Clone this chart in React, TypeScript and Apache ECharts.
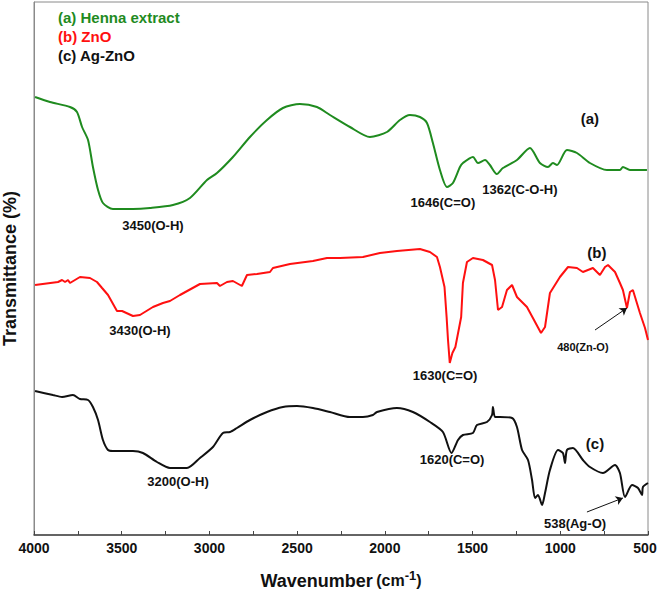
import React, { useEffect, useRef } from "react";
import * as echarts from "echarts";

// Wavenumber (cm^-1) and relative transmittance (arbitrary units)
const waveA = [3994, 3909, 3795, 3755, 3726, 3692, 3664, 3635, 3607, 3550, 3436, 3339, 3208, 3111, 3014, 2957, 2866, 2769, 2672, 2581, 2484, 2387, 2313, 2199, 2085, 1988, 1914, 1857, 1800, 1760, 1726, 1686, 1646, 1612, 1572, 1555, 1498, 1469, 1429, 1401, 1362, 1327, 1247, 1173, 1116, 1070, 1042, 1019, 962, 905, 831, 734, 660, 643, 603, 506];
const transA = [438, 433, 428, 423, 408, 395, 368, 345, 332, 326, 326, 327, 330, 337, 355, 362, 378, 398, 415, 427, 431, 428, 420, 408, 398, 403, 415, 420, 418, 412, 392, 365, 348, 352, 368, 372, 378, 372, 375, 370, 361, 367, 375, 387, 372, 368, 372, 370, 385, 382, 372, 365, 365, 368, 365, 365];

const waveB = [3994, 3863, 3840, 3823, 3806, 3795, 3738, 3681, 3641, 3612, 3578, 3527, 3498, 3436, 3396, 3322, 3265, 3225, 3168, 3054, 2957, 2940, 2900, 2866, 2815, 2786, 2729, 2655, 2638, 2541, 2410, 2330, 2256, 2125, 2028, 1931, 1800, 1743, 1703, 1686, 1660, 1648, 1640, 1630, 1615, 1598, 1565, 1555, 1532, 1498, 1441, 1389, 1372, 1355, 1332, 1304, 1275, 1247, 1190, 1156, 1110, 1087, 1059, 1002, 956, 905, 871, 814, 774, 745, 728, 688, 660, 643, 620, 603, 586, 546, 517, 500];
const transB = [250, 253, 255, 253, 255, 252, 258, 257, 253, 247, 240, 224, 224, 219, 220, 228, 232, 234, 240, 251, 252, 249, 253, 254, 249, 260, 261, 263, 267, 271, 274, 277, 277, 278, 282, 284, 286, 283, 278, 268, 248, 218, 195, 172, 182, 188, 218, 252, 273, 277, 275, 270, 255, 225, 228, 245, 250, 238, 228, 217, 202, 208, 242, 258, 268, 267, 263, 267, 260, 268, 270, 263, 252, 245, 227, 243, 245, 222, 207, 195];

const waveC = [3994, 3892, 3840, 3778, 3738, 3692, 3664, 3635, 3607, 3578, 3550, 3436, 3379, 3299, 3225, 3128, 3054, 2980, 2923, 2883, 2843, 2769, 2672, 2581, 2501, 2410, 2313, 2199, 2125, 2068, 2045, 1931, 1840, 1743, 1669, 1620, 1583, 1555, 1498, 1475, 1418, 1389, 1384, 1372, 1344, 1275, 1247, 1218, 1184, 1161, 1144, 1127, 1104, 1087, 1059, 1013, 985, 973, 962, 928, 871, 831, 757, 688, 660, 631, 591, 557, 534, 529, 500];
const transC = [144, 140, 138, 140, 136, 135, 128, 115, 95, 85, 84, 84, 82, 73, 67, 67, 77, 88, 102, 103, 107, 115, 123, 128, 129, 127, 123, 118, 118, 120, 123, 127, 123, 113, 103, 82, 95, 100, 102, 110, 113, 120, 128, 118, 118, 117, 108, 85, 75, 55, 37, 40, 30, 42, 65, 85, 82, 72, 85, 87, 75, 68, 62, 70, 62, 38, 50, 47, 40, 48, 52];

const seriesNames = ["(a) Henna extract", "(b) ZnO", "(c) Ag-ZnO"];
const seriesColors = ["#1f8b1f", "#ff1010", "#111111"];

const annotationTexts = ["3450(O-H)", "1646(C=O)", "1362(C-O-H)", "(a)", "3430(O-H)", "1630(C=O)", "(b)", "480(Zn-O)", "3200(O-H)", "1620(C=O)", "(c)", "538(Ag-O)"];
const annotationWave = [3322, 1669, 1230, 831, 3396, 1657, 791, 871, 3179, 1617, 802, 916];
const annotationTrans = [310, 333, 346, 417, 205, 160, 283, 188, 54, 76, 92, 12];

const arrowFrom = [[802, 205], [848, 23]];
const arrowTo = [[620, 227], [643, 37]];

const xTicks = { min: 500, max: 4000, step: 500 };

const FONT = "'Liberation Sans', Arial, Helvetica, sans-serif";

function zip(xs: number[], ys: number[]) {
  return xs.map((x, i) => [x, ys[i]]);
}

export default function App() {
  const ref = useRef<HTMLDivElement>(null);
  useEffect(() => {
    document.body.style.margin = "0";
    if (!ref.current) return;
    const chart = echarts.init(ref.current, undefined, { renderer: "svg" });
    const lineSeries = [
      [waveA, transA],
      [waveB, transB],
      [waveC, transC],
    ].map(([xs, ys], i) => ({
      type: "line",
      name: seriesNames[i],
      data: zip(xs, ys),
      showSymbol: false,
      symbol: "none",
      smooth: i === 1 ? false : 0.25,
      lineStyle: { color: seriesColors[i], width: 2 },
      z: 3,
    }));
    const annotationSeries = {
      type: "scatter",
      name: "annotations",
      symbolSize: 0,
      silent: true,
      itemStyle: { opacity: 1 },
      data: annotationTexts.map((t, i) => {
        const small = t.startsWith("480");
        const tag = t.length === 3;
        return {
          name: t,
          value: [annotationWave[i], annotationTrans[i]],
          label: {
            show: true,
            position: "inside",
            formatter: t,
            color: "#111111",
            opacity: 1,
            textBorderWidth: 0,
            fontFamily: FONT,
            fontWeight: "bold",
            fontSize: tag ? 15 : small ? 11 : 13,
          },
        };
      }),
      z: 5,
    };
    const arrowSeries = {
      type: "lines",
      coordinateSystem: "cartesian2d",
      symbol: ["none", "arrow"],
      symbolSize: 7,
      silent: true,
      lineStyle: { color: "#111", width: 1, opacity: 1 },
      data: arrowFrom.map((f, i) => ({ coords: [f, arrowTo[i]] })),
      z: 6,
    };
    const labelStyle = { color: "#111", fontFamily: FONT, fontWeight: "bold", fontSize: 14 };
    chart.setOption({
      animation: false,
      backgroundColor: "#ffffff",
      grid: {
        left: 34,
        right: 10,
        top: 2,
        bottom: 56,
        show: true,
        borderColor: "#8a8a8a",
        borderWidth: 1,
        containLabel: false,
        outerBoundsMode: "none",
      },
      xAxis: {
        type: "value",
        min: xTicks.min,
        max: xTicks.max,
        interval: xTicks.step,
        inverse: true,
        axisLine: { show: true, onZero: false, lineStyle: { color: "#444", width: 1.5 } },
        axisTick: { show: true, inside: true, length: 4, lineStyle: { color: "#444" } },
        minorTick: { show: true, splitNumber: 2, length: 4, lineStyle: { color: "#444" } },
        splitLine: { show: false },
        axisLabel: {
          ...labelStyle,
          margin: 6,
          showMinLabel: true,
          showMaxLabel: true,
          hideOverlap: false,
          formatter: (v: number) => (v === xTicks.min ? `{e|${v}}` : String(v)),
          rich: { e: { ...labelStyle, padding: [0, 6, 0, 0] } },
        },
        name: "{a|Wavenumber} {b|(cm}{c|-1}{b|)}",
        nameLocation: "middle",
        nameGap: 34,
        nameTextStyle: {
          fontFamily: FONT,
          rich: {
            a: { fontSize: 18, fontWeight: "bold", color: "#111", fontFamily: FONT },
            b: { fontSize: 16, fontWeight: "bold", color: "#111", fontFamily: FONT },
            c: { fontSize: 13, fontWeight: "bold", color: "#111", fontFamily: FONT, padding: [0, 0, 10, 0] },
          },
        },
      },
      yAxis: {
        type: "value",
        min: 0,
        max: 533,
        axisLine: { show: true, lineStyle: { color: "#8a8a8a", width: 1 } },
        axisTick: { show: false },
        axisLabel: { show: false },
        splitLine: { show: false },
        name: "Transmittance (%)",
        nameLocation: "middle",
        nameRotate: 90,
        nameGap: 15,
        nameTextStyle: { fontFamily: FONT, fontWeight: "bold", fontSize: 18, color: "#111" },
      },
      graphic: seriesNames.map((n, i) => ({
        type: "text",
        left: 58,
        top: 10 + i * 19,
        style: {
          text: n,
          fill: seriesColors[i] === "#111111" ? "#111" : seriesColors[i],
          font: `bold 15px ${FONT}`,
        },
        z: 10,
      })),
      series: [...lineSeries, annotationSeries, arrowSeries],
    });
    return () => chart.dispose();
  }, []);
  return <div ref={ref} style={{ width: 658, height: 591 }} />;
}
